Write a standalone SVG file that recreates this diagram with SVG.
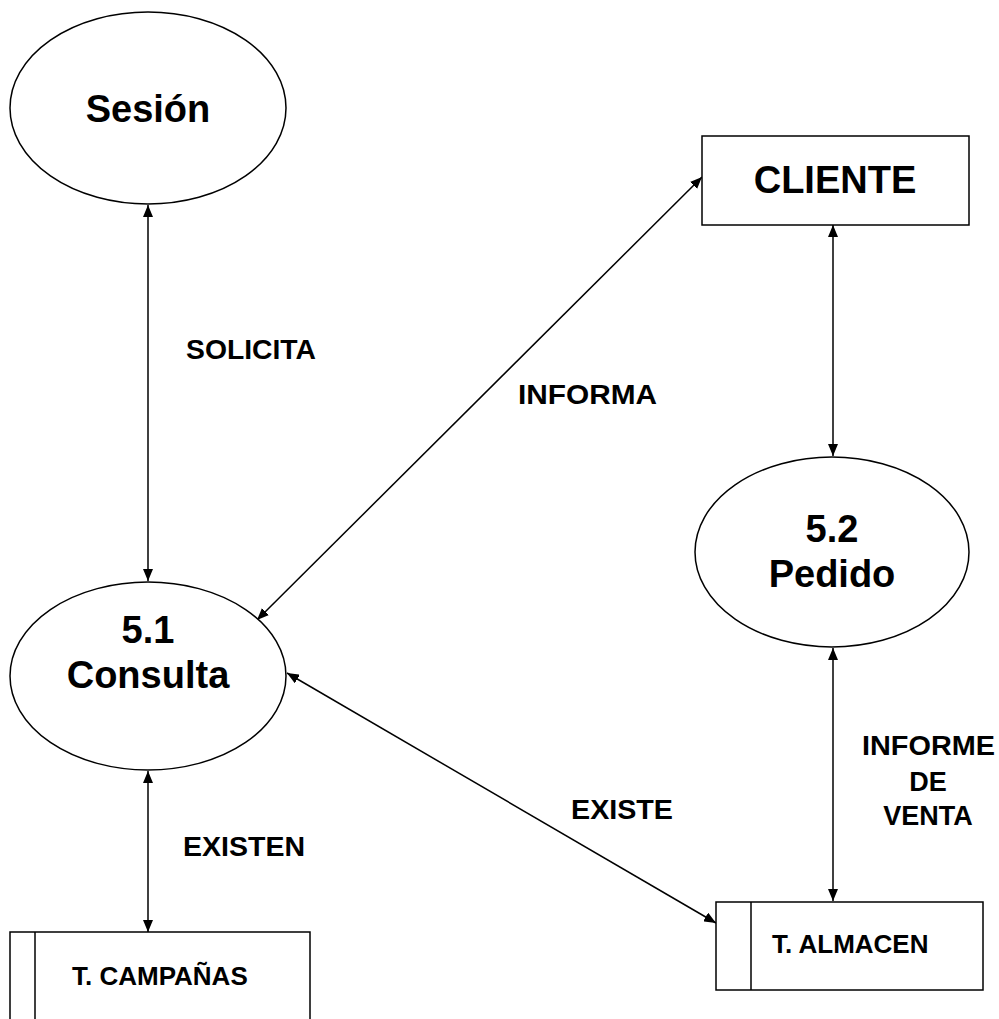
<svg xmlns="http://www.w3.org/2000/svg" width="999" height="1019" viewBox="0 0 999 1019">
<style>
.shape{fill:#fff;stroke:#000;stroke-width:1.5}
.big{font-family:"Liberation Sans",Arial,sans-serif;font-weight:bold;font-size:38px;text-anchor:middle;fill:#000}
.mid{font-family:"Liberation Sans",Arial,sans-serif;font-weight:bold;font-size:26px;fill:#000}
.lbl{font-family:"Liberation Sans",Arial,sans-serif;font-weight:bold;font-size:27px;fill:#000}
.conn{stroke:#000;stroke-width:1.5;fill:none;marker-start:url(#ah);marker-end:url(#ah)}
</style>
<defs>
<marker id="ah" viewBox="0 0 12 10" refX="12" refY="5" markerWidth="12" markerHeight="10" markerUnits="userSpaceOnUse" orient="auto-start-reverse">
<path d="M0,0 L12,5 L0,10 Z" fill="#000"/>
</marker>
</defs>
<g id="connectors">
<line class="conn" x1="148" y1="205" x2="148" y2="581"/>
<line class="conn" x1="148" y1="771" x2="148" y2="932"/>
<line class="conn" x1="702" y1="177" x2="257" y2="620"/>
<line class="conn" x1="287" y1="673" x2="716" y2="923"/>
<line class="conn" x1="833" y1="225" x2="833" y2="456"/>
<line class="conn" x1="833" y1="648" x2="833" y2="901"/>
</g>
<g id="labels">
<text class="lbl" x="186" y="359" textLength="130" lengthAdjust="spacingAndGlyphs">SOLICITA</text>
<text class="lbl" x="518" y="404" textLength="139" lengthAdjust="spacingAndGlyphs">INFORMA</text>
<text class="lbl" x="183" y="856" textLength="122" lengthAdjust="spacingAndGlyphs">EXISTEN</text>
<text class="lbl" x="571" y="819" textLength="102" lengthAdjust="spacingAndGlyphs">EXISTE</text>
<text class="lbl" x="862" y="755" textLength="133" lengthAdjust="spacingAndGlyphs">INFORME</text>
<text class="lbl" x="928" y="791" text-anchor="middle">DE</text>
<text class="lbl" x="928" y="825" text-anchor="middle">VENTA</text>
</g>
<g id="sesion">
<ellipse class="shape" cx="148" cy="108" rx="138" ry="96"/>
<text class="big" x="148" y="122">Sesión</text>
</g>
<g id="cliente">
<rect class="shape" x="702" y="136" width="267" height="89"/>
<text class="big" x="835" y="193">CLIENTE</text>
</g>
<g id="consulta">
<ellipse class="shape" cx="148" cy="676" rx="138" ry="94"/>
<text class="big" x="148" y="643">5.1</text>
<text class="big" x="148" y="688">Consulta</text>
</g>
<g id="pedido">
<ellipse class="shape" cx="832" cy="552" rx="137" ry="95"/>
<text class="big" x="832" y="542">5.2</text>
<text class="big" x="832" y="587">Pedido</text>
</g>
<g id="t-campanas">
<rect class="shape" x="10" y="932" width="300" height="100"/>
<line class="shape" x1="35" y1="932" x2="35" y2="1019"/>
<text class="mid" x="72" y="985">T. CAMPAÑAS</text>
</g>
<g id="t-almacen">
<rect class="shape" x="716" y="902" width="267" height="88"/>
<line class="shape" x1="751" y1="902" x2="751" y2="990"/>
<text class="mid" x="772" y="953">T. ALMACEN</text>
</g>
</svg>
